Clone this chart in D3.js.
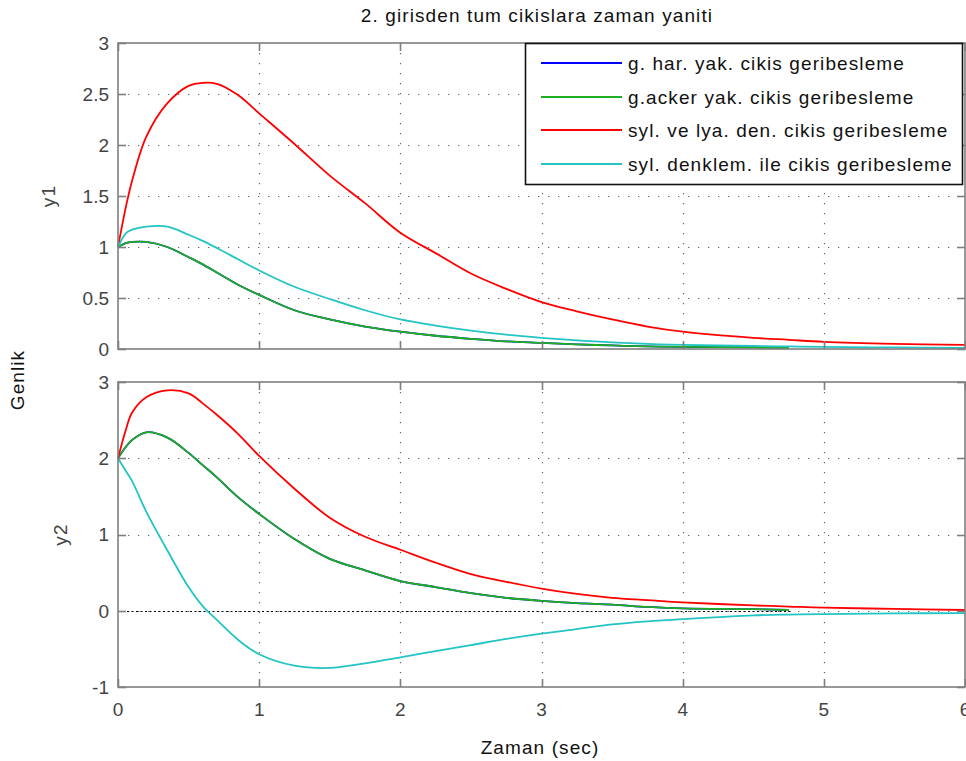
<!DOCTYPE html>
<html>
<head>
<meta charset="utf-8">
<script src="https://cdn.jsdelivr.net/npm/d3@7"></script>
<style>
  body { margin: 0; background: #fff; }
  text { font-family: "Liberation Sans", Arial, sans-serif; }
</style>
</head>
<body>
<script>
// zaman ekseni (sec)
const TIME = [0, 0.06, 0.1, 0.2, 0.35, 0.5, 0.6, 0.7, 0.85, 1.0, 1.25, 1.5, 1.75, 2.0,
  2.25, 2.5, 2.75, 3.0, 3.25, 3.5, 3.75, 4.0, 4.5, 4.75, 5.0, 5.5, 6.0]

const SERIES = [
  'g. har. yak. cikis geribesleme',
  'g.acker yak. cikis geribesleme',
  'syl. ve lya. den. cikis geribesleme',
  'syl. denklem. ile cikis geribesleme'
]
const COLORS = ['#0000ff', '#1fae1f', '#ff0000', '#22c4c4']

// y1 cikisi
const harY1 = [1.0, 1.04, 1.05, 1.05, 1.0, 0.9, 0.83, 0.75, 0.63, 0.53, 0.38, 0.29, 0.22, 0.17,
  0.13, 0.10, 0.075, 0.06, 0.045, 0.035, 0.025, 0.02, 0.015, 0.01, null, null, null]
const ackerY1 = [1.0, 1.04, 1.05, 1.05, 1.0, 0.9, 0.83, 0.75, 0.63, 0.53, 0.38, 0.29, 0.22, 0.17,
  0.13, 0.10, 0.075, 0.06, 0.045, 0.035, 0.025, 0.02, 0.015, 0.01, null, null, null]
const lyaY1 = [1.0, 1.42, 1.65, 2.08, 2.41, 2.58, 2.61, 2.60, 2.49, 2.31, 2.01, 1.70, 1.43, 1.14,
  0.94, 0.74, 0.59, 0.46, 0.37, 0.29, 0.22, 0.17, 0.11, 0.09, 0.07, 0.05, 0.04]
const sylY1 = [1.0, 1.14, 1.17, 1.2, 1.2, 1.12, 1.06, 0.99, 0.88, 0.77, 0.61, 0.49, 0.38, 0.29,
  0.23, 0.18, 0.14, 0.11, 0.085, 0.065, 0.05, 0.04, 0.03, 0.025, 0.02, 0.015, 0.01]

// y2 cikisi
const harY2 = [2.0, 2.16, 2.24, 2.34, 2.27, 2.07, 1.91, 1.75, 1.49, 1.27, 0.94, 0.68, 0.53, 0.39,
  0.31, 0.23, 0.17, 0.13, 0.10, 0.08, 0.05, 0.03, 0.02, 0.01, null, null, null]
const ackerY2 = [2.0, 2.16, 2.24, 2.34, 2.27, 2.07, 1.91, 1.75, 1.49, 1.27, 0.94, 0.68, 0.53, 0.39,
  0.31, 0.23, 0.17, 0.13, 0.10, 0.08, 0.05, 0.03, 0.02, 0.01, null, null, null]
const lyaY2 = [2.0, 2.4, 2.6, 2.8, 2.89, 2.85, 2.72, 2.57, 2.32, 2.03, 1.6, 1.22, 0.97, 0.8,
  0.63, 0.48, 0.38, 0.29, 0.22, 0.17, 0.14, 0.11, 0.07, 0.055, 0.04, 0.025, 0.01]
const sylY2 = [2.0, 1.82, 1.7, 1.3, 0.79, 0.31, 0.06, -0.12, -0.38, -0.57, -0.72, -0.75, -0.69, -0.61,
  -0.53, -0.45, -0.37, -0.30, -0.24, -0.18, -0.14, -0.11, -0.06, -0.05, -0.045, -0.035, -0.03]

const X_TICKS = [0, 1, 2, 3, 4, 5, 6]
const Y1_TICKS = [0, 0.5, 1, 1.5, 2, 2.5, 3]
const Y2_TICKS = [-1, 0, 1, 2, 3]
const ZERO_END = 4.78

const WIDTH = 966
const HEIGHT = 761
const LEFT = 118
const RIGHT = 965
const AXIS = '#7f7f7f'
const LABEL = '#444'
const FS = 19
const LS = 1.1

const svg = d3.select('body').append('svg')
  .attr('width', WIDTH)
  .attr('height', HEIGHT)

const x = d3.scaleLinear().domain([0, 6]).range([LEFT, RIGHT])

const panels = [
  { top: 43, bottom: 349, domain: [0, 3], ticks: Y1_TICKS, name: 'y1', labelX: 55,
    data: [harY1, ackerY1, lyaY1, sylY1] },
  { top: 382, bottom: 687, domain: [-1, 3], ticks: Y2_TICKS, name: 'y2', labelX: 67,
    data: [harY2, ackerY2, lyaY2, sylY2] }
]

panels.forEach((p, pi) => {
  const y = d3.scaleLinear().domain(p.domain).range([p.bottom, p.top])
  const g = svg.append('g')

  // izgara
  g.selectAll('.gx')
    .data(X_TICKS.slice(1, -1))
    .enter().append('line')
    .attr('x1', d => Math.round(x(d)) + 0.5).attr('x2', d => Math.round(x(d)) + 0.5)
    .attr('y1', p.top).attr('y2', p.bottom)
    .attr('stroke', '#666').attr('stroke-width', 1.2)
    .attr('stroke-dasharray', '1.3,8.7')
  g.selectAll('.gy')
    .data(p.ticks.slice(1, -1))
    .enter().append('line')
    .attr('x1', LEFT).attr('x2', RIGHT)
    .attr('y1', d => Math.round(y(d)) + 0.5).attr('y2', d => Math.round(y(d)) + 0.5)
    .attr('stroke', '#666').attr('stroke-width', 1.2)
    .attr('stroke-dasharray', '1.3,8.7')

  // sifir cizgisi
  if (pi === 1) {
    g.append('line')
      .attr('x1', x(0)).attr('x2', x(ZERO_END))
      .attr('y1', Math.round(y(0)) + 0.5).attr('y2', Math.round(y(0)) + 0.5)
      .attr('stroke', '#000').attr('stroke-width', 1.2)
      .attr('stroke-dasharray', '2,2.5')
  }

  // egriler
  const line = d3.line()
    .defined(d => d[1] !== null)
    .curve(d3.curveCatmullRom.alpha(0.5))
    .x(d => x(d[0]))
    .y(d => y(d[1]))
  p.data.forEach((vals, i) => {
    g.append('path')
      .datum(TIME.map((t, k) => [t, vals[k]]))
      .attr('d', line)
      .attr('fill', 'none')
      .attr('stroke', COLORS[i])
      .attr('stroke-width', 1.8)
  })

  // cerceve
  g.append('rect')
    .attr('x', LEFT).attr('y', p.top)
    .attr('width', RIGHT - LEFT).attr('height', p.bottom - p.top)
    .attr('fill', 'none').attr('stroke', AXIS).attr('stroke-width', 1.6)

  // tikler
  const TL = 8
  X_TICKS.forEach(t => {
    const xx = Math.round(x(t)) + 0.5
    g.append('line').attr('x1', xx).attr('x2', xx).attr('y1', p.bottom).attr('y2', p.bottom - TL)
      .attr('stroke', AXIS).attr('stroke-width', 1.6)
    g.append('line').attr('x1', xx).attr('x2', xx).attr('y1', p.top).attr('y2', p.top + TL)
      .attr('stroke', AXIS).attr('stroke-width', 1.6)
  })
  p.ticks.forEach(t => {
    const yy = Math.round(y(t)) + 0.5
    g.append('line').attr('x1', LEFT).attr('x2', LEFT + TL).attr('y1', yy).attr('y2', yy)
      .attr('stroke', AXIS).attr('stroke-width', 1.6)
    g.append('line').attr('x1', RIGHT).attr('x2', RIGHT - TL).attr('y1', yy).attr('y2', yy)
      .attr('stroke', AXIS).attr('stroke-width', 1.6)
  })

  // tik etiketleri
  g.selectAll('.yl')
    .data(p.ticks)
    .enter().append('text')
    .attr('x', 109)
    .attr('y', d => y(d))
    .attr('dy', '0.36em')
    .attr('text-anchor', 'end')
    .attr('font-size', FS)
    .attr('fill', LABEL)
    .text(d => d)

  if (pi === 1) {
    g.selectAll('.xl')
      .data(X_TICKS)
      .enter().append('text')
      .attr('x', d => x(d))
      .attr('y', 716)
      .attr('text-anchor', 'middle')
      .attr('font-size', FS)
      .attr('fill', LABEL)
      .text(d => d)
  }

  g.append('text')
    .attr('transform', `translate(${p.labelX}, ${(p.top + p.bottom) / 2}) rotate(-90)`)
    .attr('text-anchor', 'middle')
    .attr('font-size', FS)
    .attr('letter-spacing', LS)
    .attr('fill', LABEL)
    .text(p.name)
})

// basliklar
svg.append('text')
  .attr('x', 537).attr('y', 22)
  .attr('text-anchor', 'middle')
  .attr('font-size', FS)
  .attr('letter-spacing', LS)
  .attr('fill', '#111')
  .text('2. girisden tum cikislara zaman yaniti')

svg.append('text')
  .attr('x', 540).attr('y', 754)
  .attr('text-anchor', 'middle')
  .attr('font-size', FS)
  .attr('letter-spacing', LS)
  .attr('fill', '#111')
  .text('Zaman (sec)')

svg.append('text')
  .attr('transform', 'translate(24, 380) rotate(-90)')
  .attr('text-anchor', 'middle')
  .attr('font-size', FS)
  .attr('letter-spacing', LS)
  .attr('fill', '#111')
  .text('Genlik')

// gosterge
const legend = svg.append('g')
legend.append('rect')
  .attr('x', 525.5).attr('y', 43.5)
  .attr('width', 437).attr('height', 141)
  .attr('fill', '#fff')
  .attr('stroke', '#111').attr('stroke-width', 1.6)

const LEG_Y = [63, 97, 130, 164]
legend.selectAll('line')
  .data(SERIES)
  .enter().append('line')
  .attr('x1', 541).attr('x2', 622)
  .attr('y1', (d, i) => LEG_Y[i]).attr('y2', (d, i) => LEG_Y[i])
  .attr('stroke', (d, i) => COLORS[i])
  .attr('stroke-width', 1.8)

legend.selectAll('text')
  .data(SERIES)
  .enter().append('text')
  .attr('x', 628)
  .attr('y', (d, i) => LEG_Y[i])
  .attr('dy', '0.35em')
  .attr('font-size', FS)
  .attr('letter-spacing', LS)
  .attr('fill', '#111')
  .text(d => d)
</script>
</body>
</html>
